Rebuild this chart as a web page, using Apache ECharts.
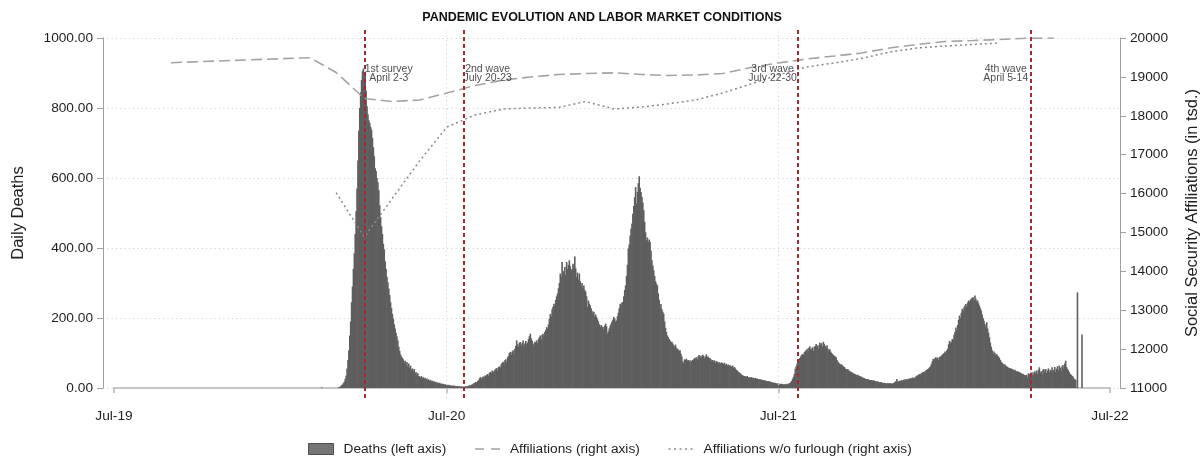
<!DOCTYPE html>
<html>
<head>
<meta charset="utf-8">
<title>Pandemic evolution and labor market conditions</title>
<script src="https://cdn.jsdelivr.net/npm/echarts@6/dist/echarts.min.js"></script>
<style>
  html, body { margin: 0; padding: 0; background: #ffffff; }
  #chart { width: 1204px; height: 460px; }
</style>
</head>
<body>
<div id="chart"></div>
<script>
// ---- Daily deaths, one array per month (day 1, 2, 3, ...) ----
const d2020_03 = [0,0,1,2,3,5,8,10,14,18, 26,35,55,80,108,150,190,245,290,340, 385,440,505,570,650,735,800,845,880,905, 913];
const d2020_04 = [900,892,850,805,782,765,758,746,738,715, 688,662,628,620,600,588,565,522,488,462, 440,412,396,362,340,318,302,284,266,245];
const d2020_05 = [228,212,198,182,170,158,147,136,118,106, 96,90,86,82,72,78,66,74,62,70, 58,64,52,56,48,54,42,46,38,42, 34];
const d2020_06 = [33,30,34,28,31,26,29,24,27,22, 25,20,23,19,21,17,19,15,18,14, 16,13,15,12,13,11,12,10,11,9];
const d2020_07 = [9,8,9,7,8,6,7,6,7,5, 6,5,6,4,5,4,5,3,4,3, 4,5,4,5,6,8,7,9,10,12, 14];
const d2020_08 = [15,17,16,20,22,28,31,26,30,33, 30,36,34,38,40,35,44,46,42,50, 48,45,52,55,57,50,60,62,58,68, 72];
const d2020_09 = [75,70,79,82,74,88,92,100,103,95, 104,108,98,112,120,136,125,118,130,131, 122,128,136,120,127,134,126,130,140,148];
const d2020_10 = [155,142,135,127,120,132,130,136,128,140, 145,150,138,152,155,148,160,165,174,170, 182,198,212,205,225,232,241,236,252,262, 270];
const d2020_11 = [285,300,327,318,360,335,330,346,322,360, 340,352,365,348,336,340,355,350,376,342, 317,330,310,327,305,293,300,285,293,280];
const d2020_12 = [275,262,231,250,241,236,228,220,212,218, 205,210,203,196,190,182,174,180,176,174, 168,178,184,176,155,162,170,178,184,190, 196];
const d2021_01 = [203,198,190,193,205,215,228,241,236,244, 246,262,280,293,320,352,398,410,436,455, 470,498,520,545,574,527,560,585,605,572, 560];
const d2021_02 = [546,530,508,475,445,422,430,418,424,417, 392,365,350,336,320,305,298,293,270,252, 231,240,225,218,212,190,172,160];
const d2021_03 = [150,145,140,136,130,132,127,122,118,124, 115,112,110,106,108,98,90,76,70,82, 80,84,78,80,76,79,72,78,80,82, 86];
const d2021_04 = [84,88,82,90,94,86,92,88,95,92, 85,90,96,88,90,84,86,82,78,80, 76,79,72,77,75,70,74,69,72,73];
const d2021_05 = [71,68,72,66,69,64,67,62,66,63, 61,64,58,60,56,52,50,47,45,43, 40,38,36,35,34,33,32,34,31,30, 31];
const d2021_06 = [30,31,28,29,27,29,26,27,25,26, 24,25,22,23,23,21,22,20,19,20, 18,19,17,16,16,15,14,15,13,13];
const d2021_07 = [13,12,11,12,12,11,10,11,10,10, 12,11,13,14,16,20,26,32,40,55, 62,70,76,83,86,90,94,97,95,102, 105];
const d2021_08 = [108,112,104,115,119,110,113,116,106,118, 120,126,118,122,112,130,124,128,118,132, 126,120,116,122,112,106,111,104,100,97, 94];
const d2021_09 = [92,90,88,80,76,72,69,66,68,64, 62,60,56,54,52,54,50,48,47,45, 44,42,41,39,38,37,38,35,34,33];
const d2021_10 = [32,30,29,28,27,26,25,26,24,23, 22,23,21,22,21,20,19,18,19,17, 16,17,16,15,14,15,14,13,13,14, 13];
const d2021_11 = [13,14,12,13,14,15,17,20,26,18, 19,21,20,22,21,23,24,22,26,25, 24,27,26,28,27,30,29,28,31,33];
const d2021_12 = [35,36,38,40,39,42,44,46,45,48, 50,52,54,56,59,62,68,76,83,80, 86,88,84,87,80,88,90,92,95,97, 100];
const d2022_01 = [104,100,107,112,125,135,128,132,140,138, 152,160,173,165,180,195,207,200,215,226, 220,230,235,240,232,244,250,246,252,255, 258];
const d2022_02 = [259,250,264,255,248,250,242,235,228,221, 210,200,192,183,176,188,170,158,145,130, 118,108,97,104,100,94,97,92];
const d2022_03 = [90,86,80,75,72,69,66,68,64,62, 60,58,56,57,55,54,53,50,52,49, 47,48,46,45,44,42,40,41,38,37, 36];
const d2022_04 = [38,30,42,40,34,44,38,45,36,48, 42,50,40,52,59,44,48,38,52,54, 46,54,42,50,56,45,52,48,59,50];
const d2022_05 = [52,60,46,55,62,50,64,58,48,62, 66,56,70,78,60,55,50,45,40,38, 35,33,28,25,23];

const deathMonths = [
  ['2020-03', d2020_03], ['2020-04', d2020_04], ['2020-05', d2020_05], ['2020-06', d2020_06],
  ['2020-07', d2020_07], ['2020-08', d2020_08], ['2020-09', d2020_09], ['2020-10', d2020_10],
  ['2020-11', d2020_11], ['2020-12', d2020_12], ['2021-01', d2021_01], ['2021-02', d2021_02],
  ['2021-03', d2021_03], ['2021-04', d2021_04], ['2021-05', d2021_05], ['2021-06', d2021_06],
  ['2021-07', d2021_07], ['2021-08', d2021_08], ['2021-09', d2021_09], ['2021-10', d2021_10],
  ['2021-11', d2021_11], ['2021-12', d2021_12], ['2022-01', d2022_01], ['2022-02', d2022_02],
  ['2022-03', d2022_03], ['2022-04', d2022_04], ['2022-05', d2022_05]
];
// isolated daily reports outside the continuous run
const deathsIsolated = [['2020-02-14', 2], ['2022-05-27', 273], ['2022-06-01', 153]];

// ---- Social Security affiliations, monthly (thousands) ----
const affDates = ['2019-09-01','2020-02-01','2020-03-01','2020-04-01','2020-05-01','2020-06-01',
  '2020-07-01','2020-08-01','2020-09-01','2020-10-01','2020-11-01','2020-12-01',
  '2021-01-01','2021-02-01','2021-03-01','2021-04-01','2021-05-01','2021-06-01',
  '2021-07-01','2021-08-01','2021-09-01','2021-10-01','2021-11-01','2021-12-01',
  '2022-01-01','2022-02-01','2022-03-01','2022-04-01','2022-05-01'];
const affiliations = [19365,19494,19113,18444,18367,18406,
  18586,18779,18920,18997,19061,19087,
  19105,19061,19036,19049,19087,19241,
  19357,19460,19537,19614,19743,19833,
  19910,19936,19961,19995,20000];

const noFurloughDates = ['2020-03-01','2020-04-01','2020-05-01','2020-06-01',
  '2020-07-01','2020-08-01','2020-09-01','2020-10-01','2020-11-01','2020-12-01',
  '2021-01-01','2021-02-01','2021-03-01','2021-04-01','2021-05-01','2021-06-01',
  '2021-07-01','2021-08-01','2021-09-01','2021-10-01','2021-11-01','2021-12-01',
  '2022-01-01','2022-02-01','2022-03-01'];
const affiliationsNoFurlough = [16022,14883,15847,16840,
  17711,18020,18174,18200,18213,18367,
  18174,18226,18303,18406,18586,18817,
  19049,19254,19357,19473,19640,19743,
  19794,19833,19871];

// ---- Survey waves ----
const surveyDates = ['2020-04-02', '2020-07-20', '2021-07-22', '2022-04-05'];
const surveyNames = ['1st survey', '2nd wave', '3rd wave', '4th wave'];
const surveyPeriods = ['April 2-3', 'July 20-23', 'July 22-30', 'April 5-14'];

// ---- Axis ticks ----
const xTickDates = ['2019-07-01', '2020-07-01', '2021-07-01', '2022-07-01'];
const monthNames = ['Jan','Feb','Mar','Apr','May','Jun','Jul','Aug','Sep','Oct','Nov','Dec'];

const DAY = 86400000;
function toTime(s) {
  const p = s.split('-').map(Number);
  return new Date(p[0], p[1] - 1, p[2] || 1).getTime();
}

// bar data built from the monthly arrays
const deathData = [];
deathsIsolated.filter(r => r[0] < '2020-03').forEach(r => deathData.push([toTime(r[0]), r[1]]));
deathMonths.forEach(([ym, vals]) => {
  const p = ym.split('-').map(Number);
  vals.forEach((v, i) => deathData.push([new Date(p[0], p[1] - 1, i + 1).getTime(), v]));
});
deathsIsolated.filter(r => r[0] > '2022-05').forEach(r => deathData.push([toTime(r[0]), r[1]]));

const affData = affDates.map((d, i) => [toTime(d), affiliations[i]]);
const noFurloughData = noFurloughDates.map((d, i) => [toTime(d), affiliationsNoFurlough[i]]);
const tickTimes = xTickDates.map(toTime);

// the plot region extends a little beyond the labelled time range
const plotStart = tickTimes[0] - 12.1 * DAY;
const plotEnd = tickTimes[tickTimes.length - 1] + 11.0 * DAY;

const FONT = '"Liberation Sans", Arial, Helvetica, sans-serif';
const TEXT = '#1e1e1e';
const BAR = '#5e5e5e';
const DASH = '#a3a3a3';
const DOT = '#8a8a8a';
const labelSide = [1, 1, -1, -1];

const chart = echarts.init(document.getElementById('chart'), null, { renderer: 'canvas' });

chart.setOption({
  animation: false,
  backgroundColor: '#ffffff',
  textStyle: { fontFamily: FONT, color: TEXT },
  title: {
    text: 'PANDEMIC EVOLUTION AND LABOR MARKET CONDITIONS',
    left: 'center',
    top: 6,
    textStyle: { fontFamily: FONT, fontSize: 12.5, fontWeight: 'bold', color: '#111' }
  },
  legend: {
    left: 303,
    top: 437,
    itemWidth: 25,
    itemHeight: 11,
    itemGap: 28,
    textStyle: { fontFamily: FONT, fontSize: 13.7, color: TEXT, padding: [0, 0, 0, 5] },
    data: [
      { name: 'Deaths (left axis)', icon: 'rect',
        itemStyle: { color: '#757575', borderColor: '#4e4e4e', borderWidth: 1 } },
      { name: 'Affiliations (right axis)',
        itemStyle: { opacity: 0 }, lineStyle: { color: DASH, type: [9, 7], width: 1.6 } },
      { name: 'Affiliations w/o furlough (right axis)',
        itemStyle: { opacity: 0 }, lineStyle: { color: DOT, type: [2, 3.5], width: 1.5 } }
    ]
  },
  grid: [
    { left: 103, right: 84, top: 38, height: 350, outerBoundsMode: 'none', containLabel: false },   // data
    { left: 103, right: 84, top: 28, height: 370, outerBoundsMode: 'none', containLabel: false },   // reference lines
    { left: 114, right: 94, top: 38, height: 350, outerBoundsMode: 'none', containLabel: false }    // labelled time axis
  ],
  xAxis: [
    { type: 'time', gridIndex: 0, min: plotStart, max: plotEnd, show: false },
    { type: 'time', gridIndex: 1, min: plotStart, max: plotEnd, show: false },
    {
      type: 'value', gridIndex: 2, min: tickTimes[0], max: tickTimes[tickTimes.length - 1],
      offset: 12,
      axisLine: { show: true, lineStyle: { color: '#c6c6c6', width: 2 } },
      axisTick: { show: true, customValues: tickTimes, length: 5, lineStyle: { color: '#b5b5b5', width: 1.5 } },
      axisLabel: {
        customValues: tickTimes, margin: 9, fontSize: 13.7, color: TEXT, fontFamily: FONT,
        formatter: v => { const d = new Date(v); return monthNames[d.getMonth()] + '-' + String(d.getFullYear()).slice(2); }
      },
      splitLine: { show: false }
    }
  ],
  yAxis: [
    {
      type: 'value', gridIndex: 0, position: 'left', min: 0, max: 1000, interval: 200,
      name: 'Daily Deaths', nameLocation: 'middle', nameGap: 76, nameRotate: 90,
      nameTextStyle: { fontSize: 16.5, color: TEXT, fontFamily: FONT },
      axisLine: { show: true, lineStyle: { color: '#a0a0a0', width: 1 } },
      axisTick: { show: true, length: 6, lineStyle: { color: '#a0a0a0' } },
      axisLabel: { margin: 10, fontSize: 13.7, color: TEXT, fontFamily: FONT, formatter: v => v.toFixed(2) },
      splitLine: { show: true, lineStyle: { color: '#cacaca', width: 1, type: [1, 3.3] } }
    },
    {
      type: 'value', gridIndex: 0, position: 'right', min: 11000, max: 20000, interval: 1000,
      name: 'Social Security Affiliations (in tsd.)', nameLocation: 'middle', nameGap: 64, nameRotate: 90,
      nameTextStyle: { fontSize: 16.5, color: TEXT, fontFamily: FONT },
      axisLine: { show: true, lineStyle: { color: '#a0a0a0', width: 1 } },
      axisTick: { show: true, length: 6, lineStyle: { color: '#a0a0a0' } },
      axisLabel: { margin: 10, fontSize: 13.7, color: TEXT, fontFamily: FONT, formatter: v => String(v) },
      splitLine: { show: false }
    },
    { type: 'value', gridIndex: 1, min: 0, max: 1, show: false },
    { type: 'value', gridIndex: 2, min: 0, max: 1, show: false }
  ],
  series: [
    {
      name: 'Deaths (left axis)', type: 'bar', xAxisIndex: 0, yAxisIndex: 0,
      data: deathData, barWidth: 1.6,
      itemStyle: { color: BAR }, z: 2
    },
    {
      name: 'Affiliations (right axis)', type: 'line', xAxisIndex: 0, yAxisIndex: 1,
      data: affData, symbol: 'none', smooth: false, color: DASH,
      itemStyle: { color: DASH },
      lineStyle: { color: DASH, width: 1.6, type: [11, 5] }, z: 4
    },
    {
      name: 'Affiliations w/o furlough (right axis)', type: 'line', xAxisIndex: 0, yAxisIndex: 1,
      data: noFurloughData, symbol: 'none', smooth: false, color: DOT,
      itemStyle: { color: DOT },
      lineStyle: { color: DOT, width: 1.5, type: [2, 3] }, z: 4
    },
    {
      // vertical reference lines: year grid and survey dates
      type: 'line', xAxisIndex: 1, yAxisIndex: 2, data: [], silent: true, z: 3,
      markLine: {
        silent: true, symbol: ['none', 'none'], label: { show: false }, animation: false,
        data: tickTimes.slice(1, -1).map(t => ({ xAxis: t, lineStyle: { color: '#cfcfcf', width: 1, type: [1, 3.3] } }))
          .concat(surveyDates.map(d => ({ xAxis: toTime(d), lineStyle: { color: '#a32b2f', width: 2, type: [4, 3] } })))
      }
    },
    {
      // survey captions beside each line
      type: 'scatter', xAxisIndex: 0, yAxisIndex: 0, silent: true, z: 5,
      symbolSize: 1, itemStyle: { color: 'rgba(0,0,0,0)' },
      data: surveyDates.map((d, i) => ({
        value: [toTime(d), 1000],
        label: {
          show: true,
          formatter: surveyNames[i] + '\n' + surveyPeriods[i],
          position: [labelSide[i] * 24, 36],
          align: 'center', verticalAlign: 'middle',
          fontSize: 10.5, lineHeight: 9.5, color: '#1a1a1a', fontFamily: FONT
        }
      }))
    }
  ]
});
</script>
</body>
</html>
